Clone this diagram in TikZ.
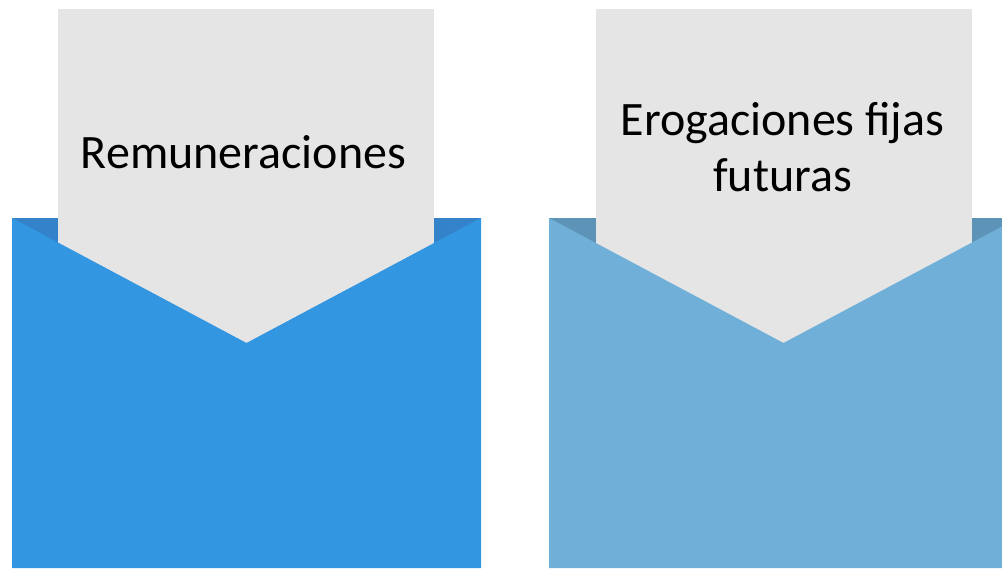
\documentclass[tikz,border=0pt]{standalone}
\usepackage{fontspec}
\setmainfont{Carlito}
\definecolor{frontA}{HTML}{3296E0}
\definecolor{backA}{HTML}{3483CA}
\definecolor{frontB}{HTML}{70B0D8}
\definecolor{backB}{HTML}{5E93B8}
\definecolor{card}{HTML}{E5E5E5}
\tikzset{
  cardtext/.style={font=\fontsize{48}{56}\selectfont, align=center, text=black, inner sep=0pt, anchor=base},
}
\begin{document}
\begin{tikzpicture}[x=1pt,y=-1pt]
\useasboundingbox (0,0) rectangle (1002,568);
\clip (0,0) rectangle (1002,568);
% left envelope
\fill[backA] (12,218) rectangle (481,568);
\fill[card] (58,9) rectangle (434,360);
\fill[frontA] (12,218) -- (246.5,343) -- (481,218) -- (481,568) -- (12,568) -- cycle;
\node[cardtext] (t1) at (243.5,168) {Remuneraciones};
% right envelope
\fill[backB] (549,218) rectangle (1018,568);
\fill[card] (596,9) rectangle (972,360);
\fill[frontB] (549,218) -- (783.5,343) -- (1018,218) -- (1018,568) -- (549,568) -- cycle;
\node[cardtext] (t2) at (782.5,191) {Erogaciones fijas\\futuras};
\end{tikzpicture}
\end{document}
